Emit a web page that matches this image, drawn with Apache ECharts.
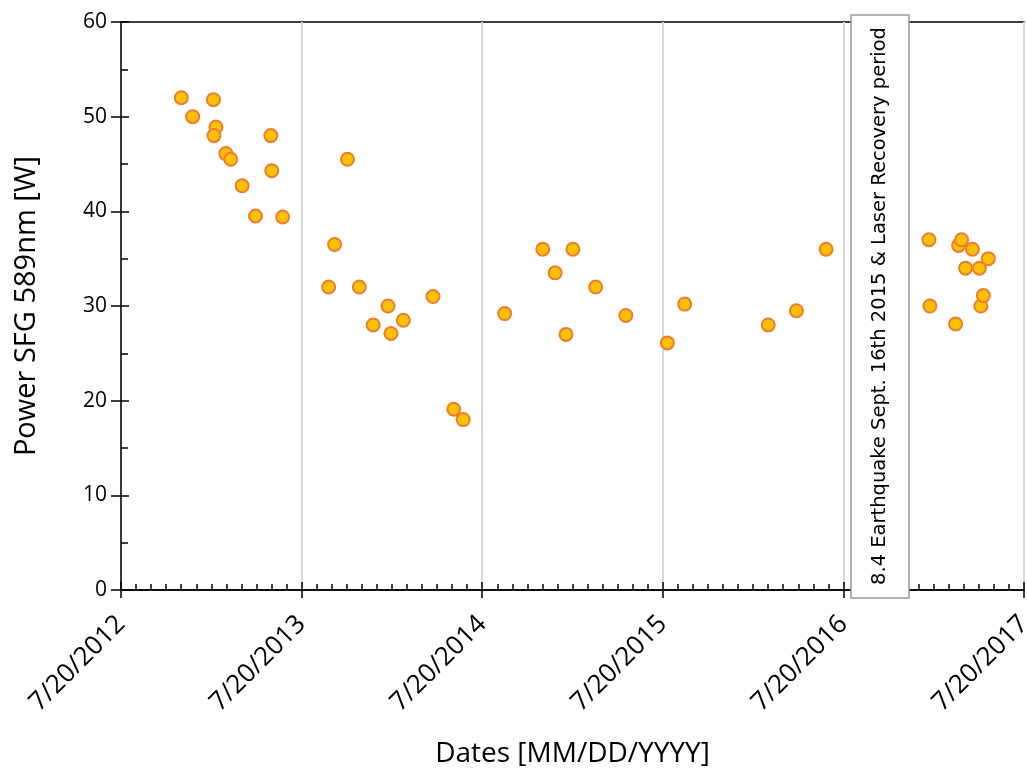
<!DOCTYPE html>
<html>
<head>
    <meta charset="utf-8" />
    <title>Power SFG 589nm</title>
    <script src="https://cdn.jsdelivr.net/npm/echarts@6.0.0/dist/echarts.min.js"></script>
    <style>
        html, body { margin: 0; padding: 0; background: #fff; }
        #main { width: 1027px; height: 769px; }
    </style>
</head>
<body>
<div id="main"></div>
<script>
    var dates = [
        '2012-11-19', '2012-12-12', '2013-01-23', '2013-01-28', '2013-01-24',
        '2013-02-17', '2013-02-27', '2013-03-22', '2013-04-18', '2013-05-19',
        '2013-05-21', '2013-06-12', '2013-09-13', '2013-09-25', '2013-10-21',
        '2013-11-14', '2013-12-12', '2014-01-11', '2014-01-17', '2014-02-11',
        '2014-04-12', '2014-05-24', '2014-06-12', '2014-09-04', '2014-11-20',
        '2014-12-15', '2015-01-06', '2015-01-20', '2015-03-07', '2015-05-07',
        '2015-07-30', '2015-09-03', '2016-02-19', '2016-04-16', '2016-06-15',
        '2017-01-09', '2017-01-11', '2017-03-04', '2017-03-10', '2017-03-16',
        '2017-03-24', '2017-04-07', '2017-04-21', '2017-04-24', '2017-04-29',
        '2017-05-09'
    ];
    // power in W
    var power = [
        52.0, 50.0, 51.8, 48.9, 48.0,
        46.1, 45.5, 42.7, 39.5, 48.0,
        44.3, 39.4, 32.0, 36.5, 45.5,
        32.0, 28.0, 30.0, 27.1, 28.5,
        31.0, 19.1, 18.0, 29.2, 36.0,
        33.5, 27.0, 36.0, 32.0, 29.0,
        26.1, 30.2, 28.0, 29.5, 36.0,
        37.0, 30.0, 28.1, 36.4, 37.0,
        34.0, 36.0, 34.0, 30.0, 31.1,
        35.0
    ];
    var axisStart = '2012-07-20';
    var axisYears = 5;
    var note = '8.4 Earthquake Sept. 16th 2015 & Laser Recovery period';

    var DAY = 86400000;
    var t0 = Date.parse(axisStart);
    function dayOf(s) { return (Date.parse(s) - t0) / DAY; }
    function fmtDate(v) {
        var d = new Date(t0 + v * DAY);
        return (d.getUTCMonth() + 1) + '/' + d.getUTCDate() + '/' + d.getUTCFullYear();
    }

    var points = [];
    for (var i = 0; i < dates.length; i++) {
        points.push([dayOf(dates[i]), power[i]]);
    }

    var xMax = 365.25 * axisYears;
    var font = '"Open Sans", sans-serif';

    var myChart = echarts.init(document.getElementById('main'));
    var option = {
        animation: false,
        grid: {
            left: 121, right: 3, top: 22, bottom: 179,
            outerBoundsMode: 'none', containLabel: false,
            show: true, borderColor: '#000', borderWidth: 1.5
        },
        xAxis: [
            {
                type: 'value', min: 0, max: xMax, interval: 365.25,
                name: 'Dates [MM/DD/YYYY]', nameLocation: 'middle', nameGap: 150,
                nameTextStyle: { fontFamily: font, fontSize: 28, color: '#000' },
                axisLine: { lineStyle: { color: '#000', width: 1.5 } },
                axisTick: { inside: false, length: 8, lineStyle: { color: '#000', width: 1.5 } },
                splitLine: { show: true, lineStyle: { color: '#d9d9d9', width: 2 } },
                axisLabel: {
                    rotate: 45, margin: 30, color: '#000', fontFamily: font, fontSize: 26,
                    formatter: fmtDate
                }
            },
            {
                type: 'value', min: 0, max: xMax, interval: 365.25, position: 'bottom',
                axisLine: { show: false },
                axisLabel: { show: false },
                splitLine: { show: false },
                axisTick: { inside: true, length: 8, lineStyle: { color: '#000', width: 1.5 } },
                minorTick: { show: true, splitNumber: 12, length: 6, lineStyle: { color: '#000', width: 1.5 } }
            }
        ],
        yAxis: [
            {
                type: 'value', min: 0, max: 60, interval: 10,
                name: 'Power SFG 589nm [W]', nameLocation: 'middle', nameGap: 80,
                nameTextStyle: { fontFamily: font, fontSize: 29, color: '#000' },
                axisLine: { show: true, lineStyle: { color: '#000', width: 1.5 } },
                axisTick: { show: true, inside: false, length: 10, lineStyle: { color: '#000', width: 1.5 } },
                splitLine: { show: false },
                axisLabel: { margin: 14, color: '#000', fontFamily: font, fontSize: 21 }
            },
            {
                type: 'value', min: 0, max: 60, interval: 10, position: 'left',
                axisLine: { show: false },
                axisLabel: { show: false },
                splitLine: { show: false },
                axisTick: { show: true, inside: true, length: 8, lineStyle: { color: '#000', width: 1.5 } },
                minorTick: { show: true, splitNumber: 2, length: 7, lineStyle: { color: '#000', width: 1.5 } }
            }
        ],
        series: [
            {
                type: 'scatter',
                data: points,
                symbol: 'circle',
                symbolSize: 13,
                itemStyle: { color: '#FFC000', borderColor: '#ED7D31', borderWidth: 2, opacity: 1 }
            }
        ],
        graphic: [
            {
                type: 'rect', z: 100,
                shape: { x: 851, y: 15, width: 58, height: 583 },
                style: { fill: '#fff', stroke: '#999', lineWidth: 1.5 }
            },
            {
                type: 'text', z: 101,
                x: 880, y: 306, rotation: Math.PI / 2,
                style: {
                    text: note, fill: '#000',
                    font: '19.5px "DejaVu Sans", sans-serif',
                    textAlign: 'center', textVerticalAlign: 'middle'
                }
            }
        ]
    };
    myChart.setOption(option);
</script>
</body>
</html>
